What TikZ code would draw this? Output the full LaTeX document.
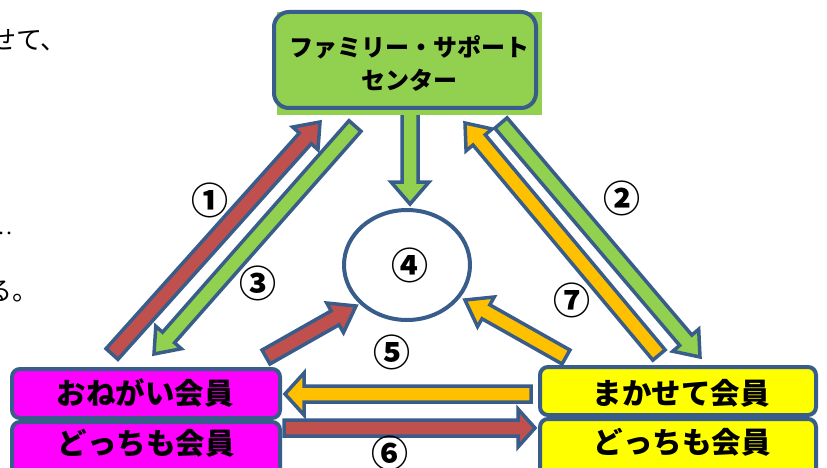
\documentclass[tikz,border=0pt]{standalone}
\usepackage{fontspec}
\setmainfont{Noto Sans CJK JP}
\usetikzlibrary{calc,shapes.geometric}
\definecolor{bord}{RGB}{56,93,138}
\definecolor{gr}{RGB}{146,208,80}
\definecolor{rd}{RGB}{192,80,77}
\definecolor{og}{RGB}{255,192,0}
\definecolor{mg}{RGB}{255,0,255}
\definecolor{yl}{RGB}{255,255,0}
\newcommand\barrow[6]{%
  \coordinate (hb) at ($(#2)!#6!(#1)$);
  \draw[arrowline, fill=#3]
    ($(#1)!#4!90:(#2)$) -- ($(hb)!#4!90:(#2)$) -- ($(hb)!#5!90:(#2)$) -- (#2)
    -- ($(hb)!#5!-90:(#2)$) -- ($(hb)!#4!-90:(#2)$) -- ($(#1)!#4!-90:(#2)$) -- cycle;
}
\begin{document}
\begin{tikzpicture}[x=1pt,y=-1pt,
  arrowline/.style={draw=bord, line width=3.5pt, line join=miter},
  box/.style={draw=bord, line width=4pt, rounded corners=8pt, inner sep=0pt},
  boxtext/.style={font=\fontsize{29.5}{32}\selectfont\bfseries, inner sep=0pt},
  num/.style={font=\fontsize{37}{40}\selectfont\bfseries, inner sep=0pt},
  frag/.style={font=\fontsize{26}{28}\selectfont, inner sep=0pt, anchor=west}]
\useasboundingbox (0,0) rectangle (827,468);
\fill[white] (0,0) rectangle (827,468);

% page fragments at left edge
\node[frag] (f1) at (-10,40) {せて、};
\node[frag, font=\fontsize{16}{18}\selectfont\bfseries] (f2) at (-3,236) {‥};
\node[frag] (f3) at (-14,291) {る。};

% arrow end coordinates
\coordinate (a1s) at (112,354); \coordinate (a1e) at (320,122);
\coordinate (a3s) at (355,126); \coordinate (a3e) at (154,354);
\coordinate (a7s) at (659,355); \coordinate (a7e) at (465,123);
\coordinate (a2s) at (501,123); \coordinate (a2e) at (700,357);
\coordinate (a5s) at (566,357); \coordinate (a5e) at (465,300);
\coordinate (a6s) at (266,357); \coordinate (a6e) at (356,306);
\coordinate (avs) at (410,113); \coordinate (ave) at (410,204);
\coordinate (ahs) at (531,394); \coordinate (ahe) at (285,394);
\coordinate (ars) at (284,428); \coordinate (are) at (535,428);

\barrow{a1s}{a1e}{rd}{8pt}{17pt}{22pt}
\barrow{a3s}{a3e}{gr}{8pt}{17pt}{22pt}
\barrow{a7s}{a7e}{og}{8pt}{17pt}{22pt}
\barrow{a2s}{a2e}{gr}{8pt}{17pt}{22pt}
\barrow{a5s}{a5e}{og}{8pt}{17pt}{24pt}
\barrow{a6s}{a6e}{rd}{8pt}{17pt}{24pt}
\barrow{avs}{ave}{gr}{8pt}{19pt}{22pt}
\barrow{ahs}{ahe}{og}{8pt}{21pt}{19pt}
\barrow{ars}{are}{rd}{8pt}{19pt}{17pt}

% top box
\fill[gr] (277,12) rectangle (542,115);
\node[box, rounded corners=15pt, fill=gr, minimum width=262pt, minimum height=96pt] (fsc) at (405,60) {};
\node[font=\fontsize{24}{33}\selectfont\bfseries, align=center, inner sep=0pt] (fsct) at (409,63.5) {ファミリー・サポート\\センター};

% ellipse
\node[draw=bord, line width=4pt, ellipse, fill=white, minimum width=126pt, minimum height=110pt, inner sep=0pt] (e4) at (407,265) {};
\node[num] (n4) at (410,265) {④};

% bottom boxes
\node[box, fill=mg, minimum width=268pt, minimum height=49pt] (ob) at (146,393.5) {};
\node[box, fill=mg, minimum width=268pt, minimum height=56pt] (db1) at (146,450) {};
\node[box, fill=yl, minimum width=276pt, minimum height=48pt] (mk) at (678,391) {};
\node[box, fill=yl, minimum width=276pt, minimum height=59pt] (db2) at (678,448.5) {};
\node[boxtext] (obt) at (145,393) {おねがい会員};
\node[boxtext] (db1t) at (146,443) {どっちも会員};
\node[boxtext] (mkt) at (681,393) {まかせて会員};
\node[boxtext] (db2t) at (682,442) {どっちも会員};

% labels
\node[num] (n1) at (210,200) {①};
\node[num] (n2) at (622,198) {②};
\node[num] (n3) at (258,283) {③};
\node[num] (n5) at (392,352) {⑤};
\node[num] (n6) at (390,453) {⑥};
\node[num] (n7) at (572,300) {⑦};
\end{tikzpicture}
\end{document}
